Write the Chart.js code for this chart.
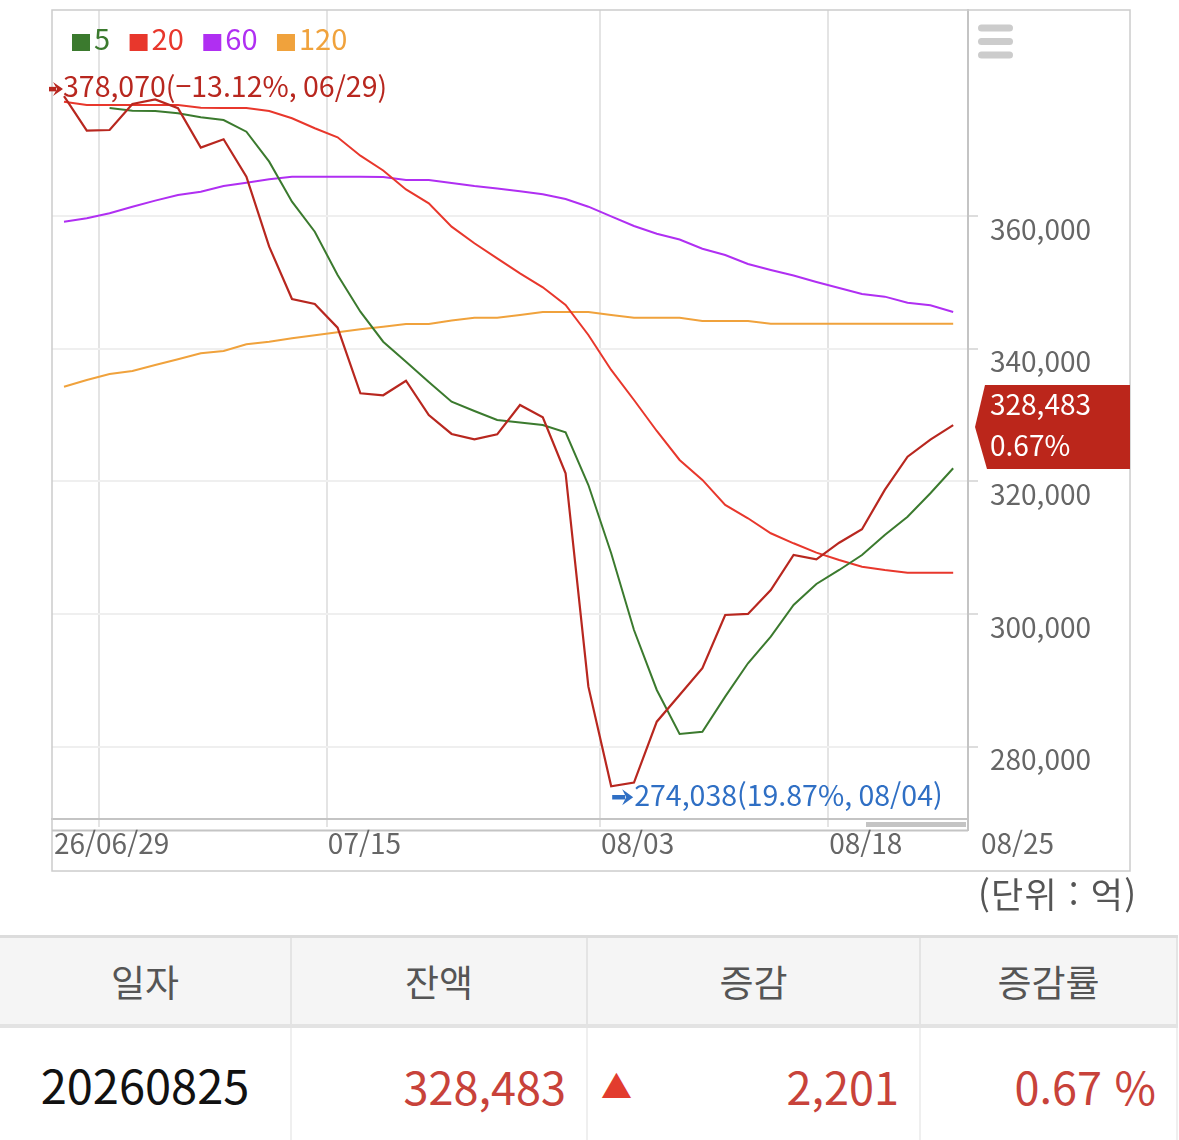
<!DOCTYPE html>
<html lang="ko">
<head>
<meta charset="utf-8">
<title>잔액 추이</title>
<script src="https://cdn.jsdelivr.net/npm/chart.js@4.4.1/dist/chart.umd.min.js"></script>
<style>
  html, body { margin: 0; padding: 0; background: #fff; }
  body { width: 1179px; height: 1140px; position: relative; overflow: hidden;
         font-family: "Noto Sans CJK KR", "Noto Sans", sans-serif; }
  #chartBox { position: absolute; left: 0; top: 0; width: 1179px; height: 880px; }
  #unit { position: absolute; left: 978px; top: 870px; font-size: 35px; line-height: 46px; color: #555;
          letter-spacing: 1.2px; }
  #tbl { position: absolute; left: 0; top: 935px; width: 1177px; border-collapse: collapse; table-layout: fixed;
         border-top: 3px solid #dcdcdc; }
  #tbl th { height: 86px; padding: 0; background: #f5f5f5; font-weight: normal; font-size: 37px; color: #555;
            border-right: 2px solid #e4e4e4; border-bottom: 4px solid #e3e3e3; }
  #tbl td { height: 110px; padding: 0 0 6px 0; font-size: 45px; border-right: 2px solid #efefef; position: relative; }
  #tbl td.c { text-align: center; color: #111; font-size: 47px; padding-bottom: 10px; }
  #tbl td.r { text-align: right; padding-right: 20px; color: #c8423a; }
  #tbl .tri { position: absolute; left: 13px; top: 40px; font-size: 31px; line-height: 34px; color: #e23c2e; }
</style>
</head>
<body>
<div id="chartBox"><canvas id="chart"></canvas></div>
<div id="unit">(단위 : 억)</div>
<table id="tbl">
  <colgroup><col style="width:291px"><col style="width:296px"><col style="width:333px"><col style="width:257px"></colgroup>
  <thead><tr><th>일자</th><th>잔액</th><th>증감</th><th>증감률</th></tr></thead>
  <tbody><tr>
    <td class="c" id="cDate"></td>
    <td class="r" id="cBal"></td>
    <td class="r" id="cChg"><span class="tri">▲</span><span id="cChgVal"></span></td>
    <td class="r" id="cPct"></td>
  </tr></tbody>
</table>
<script>
// 잔액 (일별)
const balance = [378070, 372860, 372960, 376880, 377560, 376240, 370300, 371560, 365920, 355370,
                 347490, 346740, 343160, 333270, 332970, 335170, 330000, 327140, 326340, 327090,
                 331510, 329660, 321220, 289050, 274038, 274600, 283770, 287800, 291820, 299850,
                 300010, 303620, 308900, 308250, 310750, 312770, 318700, 323720, 326282, 328483];
// 이동평균
const ma5 = [null, null, 376280, 375870, 375830, 375480, 374880, 374470, 372710, 368190,
             362160, 357630, 351110, 345570, 341050, 338040, 334980, 332010, 330610, 329250,
             328870, 328500, 327400, 319450, 309160, 297590, 288550, 281920, 282260, 287540,
             292570, 296580, 301360, 304530, 306640, 308900, 311910, 314670, 318200, 321970];
const ma20 = [377230, 376730, 376730, 376730, 376730, 376730, 376330, 376280, 376280, 375830,
              374730, 373220, 371860, 369090, 366860, 364000, 361910, 358390, 355890, 353620,
              351360, 349250, 346580, 342060, 336790, 332260, 327590, 323220, 320210, 316440,
              314430, 312170, 310660, 309250, 308150, 307140, 306640, 306230, 306230, 306230];
const ma60 = [359140, 359650, 360410, 361400, 362310, 363170, 363660, 364520, 365020, 365530,
              365920, 365920, 365920, 365920, 365880, 365430, 365430, 364970, 364520, 364150,
              363740, 363270, 362560, 361400, 359930, 358490, 357330, 356460, 355070, 354120,
              352770, 351860, 351030, 350050, 349150, 348240, 347840, 346930, 346540, 345530];
const ma120 = [334270, 335280, 336180, 336640, 337540, 338400, 339300, 339650, 340660, 341050,
               341570, 342020, 342470, 342920, 343310, 343720, 343720, 344250, 344670, 344670,
               345080, 345530, 345530, 345530, 345080, 344670, 344670, 344670, 344170, 344170,
               344170, 343770, 343770, 343770, 343770, 343770, 343770, 343770, 343770, 343770];

const maNames = ['5', '20', '60', '120'];
const yTicks = [280000, 300000, 320000, 340000, 360000];
const xTickLabels = ['26/06/29', '07/15', '08/03', '08/18', '08/25'];
const xTickIdx = [1.53, 11.53, 23.51, 33.52];
const markDates = ['06/29', '08/04'];   // 최고, 최저 날짜
const lastDate = '20260825';

const FONT = '"Noto Sans CJK KR", "Noto Sans", sans-serif';
const colors = { bal: '#b8271f', ma5: '#3b7a2e', ma20: '#e8372c', ma60: '#b02ff2', ma120: '#f0a23c' };

const fmt = v => v.toLocaleString('en-US');
const pts = arr => arr.map((v, i) => ({ x: i, y: v }));

const last = balance[balance.length - 1];
const prev = balance[balance.length - 2];
const chgPct = (last - prev) / prev * 100;

// 표 채우기
document.getElementById('cDate').textContent = lastDate;
document.getElementById('cBal').textContent = fmt(last);
document.getElementById('cChgVal').textContent = fmt(last - prev);
document.getElementById('cPct').textContent = chgPct.toFixed(2) + ' %';

// ➔ 모양 화살표
function arrow(ctx, x0, y, len, head, color) {
  ctx.save();
  ctx.strokeStyle = color;
  ctx.fillStyle = color;
  ctx.lineWidth = 4.5;
  ctx.beginPath();
  ctx.moveTo(x0, y);
  ctx.lineTo(x0 + len - head, y);
  ctx.stroke();
  ctx.beginPath();
  ctx.moveTo(x0 + len, y);
  ctx.lineTo(x0 + len - head - 3, y - head);
  ctx.lineTo(x0 + len - head + 1, y);
  ctx.lineTo(x0 + len - head - 3, y + head);
  ctx.closePath();
  ctx.fill();
  ctx.restore();
}

// 테두리, 범례, 최고/최저 표시, 현재가 태그
const decor = {
  id: 'decor',
  beforeDraw(chart) {
    const ctx = chart.ctx;
    ctx.save();
    ctx.fillStyle = '#fff';
    ctx.fillRect(0, 0, chart.width, chart.height);
    ctx.restore();
  },
  afterDraw(chart) {
    const ctx = chart.ctx;
    const a = chart.chartArea;
    const ys = chart.scales.y;
    ctx.save();

    // 바깥 박스
    ctx.strokeStyle = '#cccccc';
    ctx.lineWidth = 1.5;
    ctx.strokeRect(52, 10, 1078, 861);

    // 네비게이터 선, 스크롤바
    ctx.strokeStyle = '#c4c4c4';
    ctx.lineWidth = 2;
    ctx.beginPath();
    ctx.moveTo(a.left, 830.5); ctx.lineTo(a.right, 830.5);
    ctx.moveTo(a.right, a.bottom); ctx.lineTo(a.right, 831);
    ctx.stroke();
    ctx.fillStyle = '#c4c4c4';
    ctx.fillRect(866, 822, 100, 5);

    // x축 라벨
    ctx.font = '28px ' + FONT;
    ctx.fillStyle = '#666';
    ctx.textBaseline = 'middle';
    ctx.textAlign = 'left';
    xTickIdx.forEach((v, i) => {
      const px = chart.scales.x.getPixelForValue(v);
      ctx.fillText(xTickLabels[i], i === 0 ? a.left + 2 : px + 1, 843);
    });
    ctx.fillText(xTickLabels[xTickLabels.length - 1], a.right + 13, 843);

    // 메뉴 아이콘
    ctx.fillStyle = '#cccccc';
    [24.5, 38, 51.5].forEach(y => {
      ctx.beginPath();
      ctx.roundRect(978, y, 35, 7, 3.5);
      ctx.fill();
    });

    // 범례
    ctx.font = '29px ' + FONT;
    let lx = 72;
    chart.data.datasets.slice(1).forEach(ds => {
      ctx.fillStyle = ds.borderColor;
      ctx.fillRect(lx, 34, 18, 17);
      ctx.fillText(ds.label, lx + 22, 39);
      lx += 22 + ctx.measureText(ds.label).width + 19.5;
    });

    // 최고/최저
    const meta = chart.getDatasetMeta(0);
    const maxV = Math.max(...balance), minV = Math.min(...balance);
    const pMax = meta.data[balance.indexOf(maxV)];
    const pMin = meta.data[balance.indexOf(minV)];
    const pctMax = ((last - maxV) / maxV * 100).toFixed(2).replace('-', '\u2212');
    const pctMin = ((last - minV) / minV * 100).toFixed(2);
    ctx.font = '28.5px ' + FONT;
    arrow(ctx, pMax.x - 15, pMax.y - 7, 14, 7, colors.bal);
    ctx.fillStyle = colors.bal;
    ctx.fillText(fmt(maxV) + '(' + pctMax + '%, ' + markDates[0] + ')', pMax.x - 1, pMax.y - 10);
    arrow(ctx, pMin.x + 1, pMin.y + 11, 21, 8, '#2f6fc4');
    ctx.fillStyle = '#2f6fc4';
    ctx.fillText(fmt(minV) + '(' + pctMin + '%, ' + markDates[1] + ')', pMin.x + 23, pMin.y + 9);

    // 현재가 태그
    const ly = ys.getPixelForValue(last) + 2;
    ctx.fillStyle = '#bb261b';
    ctx.beginPath();
    ctx.moveTo(985, ly - 42);
    ctx.lineTo(1130, ly - 42);
    ctx.lineTo(1130, ly + 42);
    ctx.lineTo(987, ly + 42);
    ctx.lineTo(975, ly);
    ctx.closePath();
    ctx.fill();
    ctx.font = '28px ' + FONT;
    ctx.fillStyle = '#fff';
    ctx.fillText(fmt(last), 990, ly - 23);
    ctx.fillText(chgPct.toFixed(2) + '%', 990, ly + 18);

    ctx.restore();
  }
};

new Chart(document.getElementById('chart'), {
  type: 'line',
  data: {
    datasets: [
      { label: '잔액', data: pts(balance), borderColor: colors.bal, borderWidth: 2.2 },
      { label: maNames[0], data: pts(ma5), borderColor: colors.ma5 },
      { label: maNames[1], data: pts(ma20), borderColor: colors.ma20 },
      { label: maNames[2], data: pts(ma60), borderColor: colors.ma60 },
      { label: maNames[3], data: pts(ma120), borderColor: colors.ma120 }
    ]
  },
  options: {
    responsive: true,
    maintainAspectRatio: false,
    animation: false,
    layout: { padding: { left: 52, top: 10, right: 0, bottom: 0 } },
    elements: { point: { radius: 0 }, line: { borderWidth: 2, tension: 0 } },
    plugins: { legend: { display: false }, tooltip: { enabled: false } },
    scales: {
      x: {
        type: 'linear',
        min: -0.526,
        max: 39.65,
        afterBuildTicks: s => { s.ticks = xTickIdx.map(v => ({ value: v })); },
        afterFit: s => { s.height = 61; s.paddingLeft = 0; s.paddingRight = 0; },
        ticks: { display: false },
        grid: { color: '#e4e4e4', lineWidth: 2, tickLength: 8 },
        border: { color: '#c4c4c4', width: 2 }
      },
      y: {
        position: 'right',
        min: 269100,
        max: 391050,
        afterBuildTicks: s => { s.ticks = yTicks.map(v => ({ value: v })); },
        afterFit: s => { s.width = 211; s.paddingTop = 0; s.paddingBottom = 0; },
        ticks: {
          color: '#666',
          font: { family: FONT, size: 28 },
          padding: 12,
          labelOffset: 13,
          callback: v => fmt(v)
        },
        grid: { color: '#efefef', lineWidth: 2, tickLength: 10, tickColor: '#dddddd' },
        border: { color: '#c4c4c4', width: 2 }
      }
    }
  },
  plugins: [decor]
});
</script>
</body>
</html>
